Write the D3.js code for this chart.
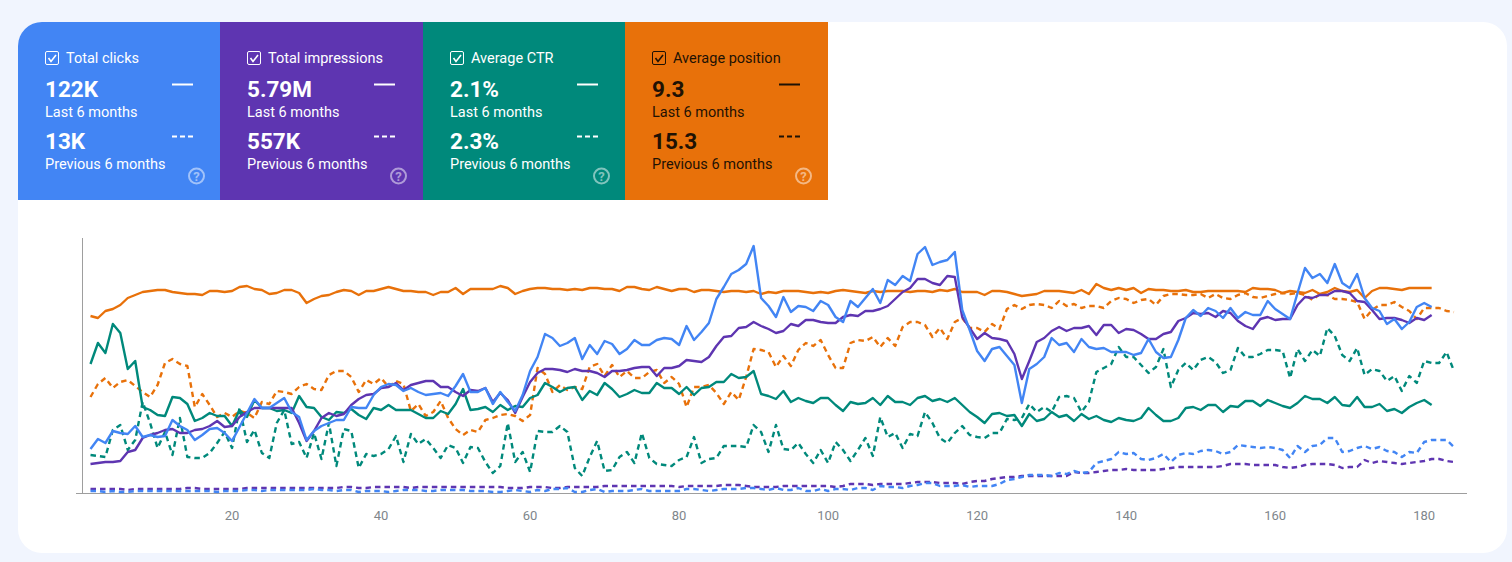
<!DOCTYPE html>
<html>
<head>
<meta charset="utf-8">
<script src="https://cdn.jsdelivr.net/npm/d3@7"></script>
<style>
  html, body { margin: 0; padding: 0; background: #f1f5fe; overflow: hidden; }
  text { font-family: Roboto, sans-serif; }
</style>
</head>
<body>
<svg id="chart" width="1512" height="562"></svg>
<script>
var tickDays = [20, 40, 60, 80, 100, 120, 140, 160, 180];

var cardTitles = ['Total clicks', 'Total impressions', 'Average CTR', 'Average position'];
var cardLast = ['122K', '5.79M', '2.1%', '9.3'];
var cardPrev = ['13K', '557K', '2.3%', '15.3'];
var cardColors = ['#4285f4', '#5e35b1', '#00897b', '#e8710a'];
var cardInk = ['#fff', '#fff', '#fff', '#1f1204'];

var blueCurrent = [
  44,54,50,62,60,59,67,56,58,56,
  57,73,67,63,53,58,64,65,60,52,
  66,80,94,85,85,90,95,81,76,53,
  62,67,70,73,73,86,85,85,98,106,
  109,108,102,105,101,98,99,100,97,107,
  119,101,101,105,89,101,91,82,98,122,
  136,159,155,147,150,155,134,148,139,152,
  149,139,144,153,148,148,153,155,154,148,
  167,153,161,170,194,206,219,223,229,247,
  195,187,176,196,181,187,186,182,192,188,
  176,171,192,186,195,204,190,213,208,217,
  212,239,246,228,231,233,241,183,163,142,
  132,144,146,137,128,90,124,129,136,155,
  148,150,141,154,146,144,145,141,141,141,
  138,140,154,141,135,136,153,175,183,177,
  185,182,175,185,175,181,178,178,192,184,
  179,174,200,225,215,219,210,229,210,205,
  219,195,185,182,169,174,164,171,186,190,186
];
var bluePrev = [
  2,2,1,2,1,1,2,2,2,2,
  2,2,2,2,2,2,2,1,2,2,
  2,3,3,2,3,3,3,3,3,3,
  4,3,3,2,3,3,1,2,2,2,
  1,2,3,3,3,2,2,3,3,3,
  3,2,2,2,1,1,2,3,2,1,
  3,2,4,4,5,1,1,3,4,1,
  2,2,2,3,4,2,2,2,2,2,
  4,4,3,2,3,4,4,4,5,5,
  4,3,5,3,3,5,2,2,4,2,
  4,4,3,5,5,3,7,6,6,5,
  7,8,10,10,7,7,7,8,6,7,
  7,7,9,13,14,16,18,18,18,17,
  20,19,22,20,21,30,32,34,41,39,
  40,34,33,35,39,31,38,40,39,42,
  43,42,39,41,48,47,46,45,46,45,
  43,35,47,41,47,48,55,55,41,42,
  45,47,44,46,42,41,36,41,40,51,
  53,53,53,46
];
var purpleCurrent = [
  29,30,31,31,32,41,43,55,58,60,
  63,64,60,60,63,64,67,72,66,67,
  76,81,85,85,85,85,85,85,70,52,
  62,75,80,77,79,88,94,98,99,105,
  106,110,103,108,110,112,112,106,106,101,
  97,103,102,105,91,100,93,80,96,111,
  120,124,124,123,121,124,122,122,120,116,
  122,122,123,125,126,126,117,125,125,127,
  133,132,131,136,147,156,157,165,166,171,
  167,164,160,162,169,167,173,173,171,170,
  170,176,178,177,182,182,184,187,194,201,
  205,214,214,210,208,217,216,176,165,154,
  160,155,154,152,139,114,132,151,155,162,
  166,162,165,165,167,158,168,168,160,164,
  163,159,154,154,159,161,172,175,180,179,
  180,176,182,180,172,167,164,174,176,173,
  174,174,188,196,195,198,198,202,202,200,
  192,191,183,174,175,175,173,170,175,173,178
];
var purplePrev = [
  4,4,4,4,4,3,4,4,4,4,
  4,4,4,5,5,4,4,4,4,4,
  4,5,5,5,5,5,5,5,5,5,
  5,5,5,5,6,6,5,5,6,6,
  6,6,6,5,6,6,6,6,6,6,
  6,6,6,6,6,6,5,5,5,6,
  6,6,5,5,6,6,6,6,6,7,
  7,7,7,7,7,7,7,7,7,6,
  7,7,7,7,7,8,8,8,7,6,
  6,6,6,7,7,7,7,7,7,7,
  6,7,9,9,9,8,9,9,9,9,
  10,11,11,11,10,10,10,9,11,12,
  12,14,15,16,16,17,17,17,17,17,
  17,17,21,20,20,21,22,23,23,24,
  23,23,23,23,24,25,26,26,26,26,
  26,26,27,29,29,29,28,28,28,28,
  26,25,26,28,29,29,29,28,25,26,
  26,33,30,32,31,30,29,30,31,32,
  34,34,32,31
];
var tealCurrent = [
  129,150,140,169,160,124,132,86,83,78,
  77,96,95,89,72,75,80,77,77,67,
  83,76,93,85,85,82,83,80,97,86,
  85,76,73,81,80,84,78,74,85,83,
  88,83,83,83,79,75,75,82,79,89,
  104,83,84,86,81,88,83,87,86,95,
  98,110,106,101,105,106,93,102,98,110,
  104,96,99,103,100,100,110,105,105,99,
  106,98,105,106,111,111,119,115,116,122,
  99,97,94,102,91,95,92,90,95,95,
  88,82,91,89,90,95,88,97,91,91,
  88,95,97,92,94,91,95,88,81,76,
  70,79,80,77,78,67,79,72,74,81,
  76,78,72,79,74,77,73,71,75,73,
  72,75,85,78,72,72,75,85,86,83,
  88,88,81,87,86,92,92,87,93,90,
  87,85,90,97,94,94,90,96,88,87,
  96,86,86,89,82,84,80,86,90,93,88
];
var tealPrev = [
  38,37,36,63,68,43,53,91,70,45,
  61,38,75,36,35,35,40,50,61,45,
  85,51,63,40,35,70,83,49,51,35,
  60,34,70,27,64,62,25,39,37,39,
  44,57,31,59,49,54,45,35,48,45,
  30,46,45,31,20,27,70,31,41,21,
  62,61,61,67,61,25,17,36,52,22,
  23,36,41,30,60,35,29,28,27,33,
  36,56,30,34,35,47,47,47,46,68,
  61,41,68,44,43,50,39,30,43,30,
  51,43,32,43,55,37,76,56,60,45,
  59,57,81,70,55,50,60,67,58,56,
  55,60,60,74,73,75,89,81,86,81,
  96,97,95,81,91,121,125,129,146,136,
  136,128,120,126,144,106,123,130,123,133,
  136,131,120,123,145,136,136,139,143,143,
  142,115,144,132,143,137,165,157,138,132,
  145,118,124,122,112,117,102,117,110,132,
  130,130,141,122
];
var orangeCurrent = [
  177,175,182,184,188,195,198,201,202,203,
  203,201,200,199,199,198,202,202,201,202,
  206,207,204,203,199,200,203,203,200,190,
  194,197,198,201,203,202,198,202,202,204,
  206,204,202,202,201,201,198,201,201,205,
  199,204,204,204,204,207,205,199,202,204,
  205,205,204,204,203,204,203,205,205,204,
  204,202,206,206,204,203,206,204,202,204,
  204,201,203,203,202,201,202,202,201,202,
  199,201,200,202,202,202,201,200,201,200,
  202,203,202,201,200,202,201,202,202,202,
  201,202,202,201,203,202,204,201,201,201,
  198,202,202,201,199,197,198,199,202,202,
  202,201,200,203,199,209,205,203,205,203,
  205,200,204,203,203,202,202,203,201,201,
  202,202,202,202,202,201,205,204,204,203,
  200,202,201,200,203,199,201,205,202,201,
  203,195,202,205,205,204,203,205,205,205,205
];
var orangePrev = [
  96,109,115,105,111,113,107,101,96,108,
  130,134,129,127,86,99,88,76,80,76,
  82,80,75,91,89,102,101,99,106,109,
  104,103,118,122,122,116,101,113,109,115,
  106,112,109,82,89,77,81,92,75,64,
  58,63,61,73,75,78,79,77,72,78,
  125,119,101,108,103,106,104,126,129,117,
  128,116,122,115,115,121,123,110,116,109,
  86,106,106,108,100,89,101,93,116,144,
  143,141,126,137,127,143,150,147,153,138,
  125,125,150,153,152,156,146,155,147,166,
  171,171,168,156,165,154,171,175,165,165,
  161,169,164,184,188,184,188,189,188,185,
  192,187,189,185,187,187,185,192,195,194,
  190,193,194,188,197,199,199,198,198,199,
  195,199,195,194,198,200,196,195,197,199,
  200,199,200,198,193,199,198,194,194,193,
  191,174,183,188,188,191,186,182,174,185,
  185,185,182,181
];

var svg = d3.select('#chart');

// white panel behind everything
svg.append('rect')
    .attr('x', 18)
    .attr('y', 22)
    .attr('width', 1489)
    .attr('height', 531)
    .attr('rx', 24)
    .attr('fill', '#fff');

var cardScale = d3.scaleBand()
    .domain(d3.range(cardTitles.length))
    .range([18, 828]);

var card = svg.selectAll('.card')
    .data(cardTitles)
    .enter().append('g')
    .attr('class', 'card')
    .attr('transform', function(d, i) { return 'translate(' + Math.floor(cardScale(i)) + ',22)'; });

card.append('path')
    .attr('d', function(d, i) {
        var w = Math.ceil(cardScale.bandwidth());
        if (i === 0) {
            return 'M0,24 A24,24 0 0 1 24,0 L' + w + ',0 L' + w + ',178 L0,178 Z';
        }
        return 'M0,0 L' + w + ',0 L' + w + ',178 L0,178 Z';
    })
    .attr('fill', function(d, i) { return cardColors[i]; });

// checkbox
card.append('rect')
    .attr('x', 27.5)
    .attr('y', 29.5)
    .attr('width', 13)
    .attr('height', 13)
    .attr('rx', 1.5)
    .attr('fill', 'none')
    .attr('stroke', function(d, i) { return cardInk[i]; })
    .attr('stroke-width', 1);

card.append('path')
    .attr('d', 'M30.5,36 L33,39.5 L38,33')
    .attr('fill', 'none')
    .attr('stroke', function(d, i) { return cardInk[i]; })
    .attr('stroke-width', 1.6);

card.append('text')
    .attr('x', 48)
    .attr('y', 41)
    .attr('font-size', 14.5)
    .attr('fill', function(d, i) { return cardInk[i]; })
    .text(function(d) { return d; });

card.append('text')
    .attr('x', 27)
    .attr('y', 75)
    .attr('font-size', 22.5)
    .attr('font-weight', 700)
    .attr('fill', function(d, i) { return cardInk[i]; })
    .text(function(d, i) { return cardLast[i]; });

card.append('text')
    .attr('x', 27)
    .attr('y', 95)
    .attr('font-size', 14.5)
    .attr('fill', function(d, i) { return cardInk[i]; })
    .text('Last 6 months');

card.append('text')
    .attr('x', 27)
    .attr('y', 127)
    .attr('font-size', 22.5)
    .attr('font-weight', 700)
    .attr('fill', function(d, i) { return cardInk[i]; })
    .text(function(d, i) { return cardPrev[i]; });

card.append('text')
    .attr('x', 27)
    .attr('y', 147)
    .attr('font-size', 14.5)
    .attr('fill', function(d, i) { return cardInk[i]; })
    .text('Previous 6 months');

// little legend strokes
card.append('line')
    .attr('x1', 154)
    .attr('x2', 175)
    .attr('y1', 62.5)
    .attr('y2', 62.5)
    .attr('stroke', function(d, i) { return cardInk[i]; })
    .attr('stroke-width', 2);

card.append('line')
    .attr('x1', 154)
    .attr('x2', 175)
    .attr('y1', 114.5)
    .attr('y2', 114.5)
    .attr('stroke', function(d, i) { return cardInk[i]; })
    .attr('stroke-width', 2)
    .attr('stroke-dasharray', '5 3');

// help icon
card.append('circle')
    .attr('cx', 178.5)
    .attr('cy', 154)
    .attr('r', 7.5)
    .attr('fill', 'none')
    .attr('stroke', '#fff')
    .attr('stroke-opacity', 0.5)
    .attr('stroke-width', 2);

card.append('text')
    .attr('x', 178.5)
    .attr('y', 158.5)
    .attr('text-anchor', 'middle')
    .attr('font-size', 13)
    .attr('font-weight', 700)
    .attr('fill', '#fff')
    .attr('fill-opacity', 0.5)
    .text('?');

var xScale = d3.scaleLinear().domain([1, 184]).range([90.5, 1454]);
var yScale = d3.scaleLinear().domain([0, 255]).range([493, 238]);

var xAxis = d3.axisBottom(xScale)
    .tickValues(tickDays)
    .tickSize(0)
    .tickPadding(18);

var axisG = svg.append('g')
    .attr('transform', 'translate(-0.5,493)')
    .call(xAxis);

axisG.select('.domain').remove();
axisG.selectAll('text')
    .attr('font-size', 13)
    .attr('font-family', 'Roboto, sans-serif')
    .attr('fill', '#80868b');

svg.append('line')
    .attr('x1', 76)
    .attr('x2', 1467)
    .attr('y1', 493.5)
    .attr('y2', 493.5)
    .attr('stroke', '#9e9e9e');

svg.append('line')
    .attr('x1', 82.5)
    .attr('x2', 82.5)
    .attr('y1', yScale(0))
    .attr('y2', yScale(255))
    .attr('stroke', '#9e9e9e');

var line = d3.line()
    .x(function(d, i) { return xScale(i + 1); })
    .y(function(d) { return yScale(d); });

function drawSeries(values, color, dashed) {
    svg.append('path')
        .attr('d', line(values))
        .attr('fill', 'none')
        .attr('stroke', color)
        .attr('stroke-width', 2.4)
        .attr('stroke-linejoin', 'round')
        .attr('stroke-dasharray', dashed ? '5.5 4' : null);
}

drawSeries(orangePrev, cardColors[3], true);
drawSeries(tealPrev, cardColors[2], true);
drawSeries(purplePrev, cardColors[1], true);
drawSeries(bluePrev, cardColors[0], true);
drawSeries(orangeCurrent, cardColors[3], false);
drawSeries(tealCurrent, cardColors[2], false);
drawSeries(purpleCurrent, cardColors[1], false);
drawSeries(blueCurrent, cardColors[0], false);
</script>
</body>
</html>
